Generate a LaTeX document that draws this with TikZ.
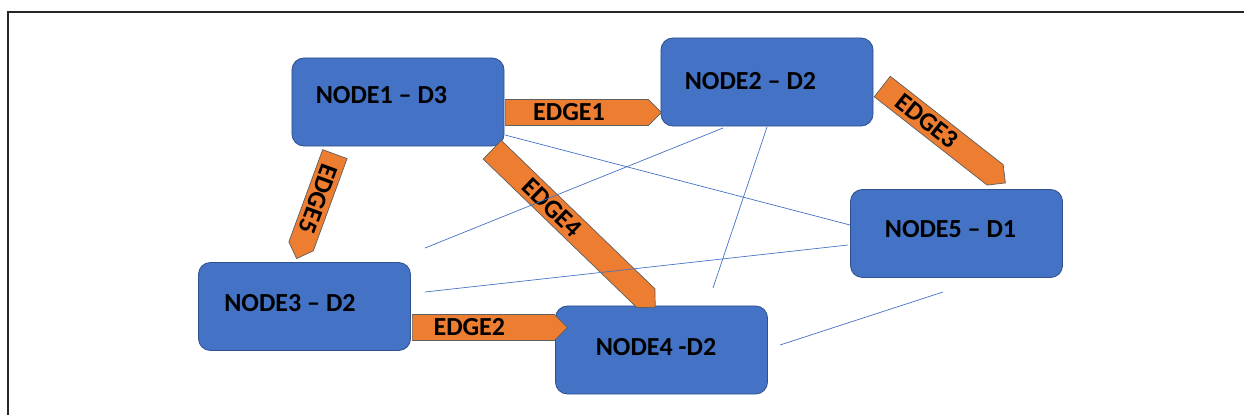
\documentclass[tikz,border=0pt]{standalone}
\usepackage{fontspec}
\setmainfont{Carlito}
\usetikzlibrary{shapes.arrows,calc}
\definecolor{nodeblue}{HTML}{4472C4}
\definecolor{nodeedge}{HTML}{2F528F}
\definecolor{edgeorange}{HTML}{ED7D31}
\definecolor{edgegray}{HTML}{5F5F5F}

\tikzset{
  graphnode/.style={rectangle, rounded corners=0.3cm, draw=nodeedge,
        line width=0.6pt, fill=nodeblue, minimum width=5.3cm,
        minimum height=2.2cm, inner sep=0pt},
  nodetext/.style={font=\bfseries\fontsize{18.5}{20}\selectfont, inner sep=0pt},
  edgearrow/.style={single arrow, single arrow head extend=0pt,
        single arrow tip angle=90, draw=edgegray, line width=0.5pt,
        fill=edgeorange, minimum width=0.65cm, inner sep=0pt},
  crossline/.style={draw=nodeblue, line width=0.5pt},
  framerule/.style={draw=black!85, line width=1.4pt},
}

% fat edge: name, tail, tip, label position, label
\newcommand\fatedge[5]{%
  \path let \p1=(#2), \p2=(#3), \n1={atan2(\y2-\y1,\x2-\x1)},
            \n2={veclen(\x2-\x1,\y2-\y1)} in
    node[edgearrow, anchor=tail, rotate=\n1, minimum height=\n2] (#1) at (\p1) {}
    node[nodetext, rotate=\n1] (#1t) at ($(#2)!#4!(#3)$) {#5};
}

\begin{document}
\begin{tikzpicture}[x=0.025cm, y=-0.025cm]
  \useasboundingbox (0,0) rectangle (1244,415);
  \draw[framerule] (8,415) -- (8,12) -- (1244,12);

  % the five boxes
  \node[graphnode] (n1) at (398,102) {};
  \node[graphnode] (n2) at (767,82) {};
  \node[graphnode] (n3) at (304.5,306.5) {};
  \node[graphnode] (n4) at (661.5,350) {};
  \node[graphnode] (n5) at (956.5,233.5) {};
  \node[nodetext] (n1t) at (381.5,95) {NODE1 – D3};
  \node[nodetext] (n2t) at (750.5,81) {NODE2 – D2};
  \node[nodetext] (n3t) at (290,303) {NODE3 – D2};
  \node[nodetext] (n4t) at (656,347) {NODE4 -D2};
  \node[nodetext] (n5t) at (950.5,229) {NODE5 – D1};

  % ends of the fat edges
  \coordinate (e1s) at (505,112.5);   \coordinate (e1e) at (661,112.5);
  \coordinate (e2s) at (412,327.5);   \coordinate (e2e) at (567,327.5);
  \coordinate (e3s) at (882,86.3);    \coordinate (e3e) at (1005.5,183);
  \coordinate (e4s) at (492,149.5);   \coordinate (e4e) at (655,307);
  \coordinate (e5s) at (335,153.8);   \coordinate (e5e) at (296.7,258.3);
  \fatedge{e1}{e1s}{e1e}{0.41}{EDGE1}
  \fatedge{e2}{e2s}{e2e}{0.37}{EDGE2}
  \fatedge{e3}{e3s}{e3e}{0.36}{EDGE3}
  \fatedge{e4}{e4s}{e4e}{0.37}{EDGE4}
  \fatedge{e5}{e5s}{e5e}{0.43}{EDGE5}

  % thin cross lines
  \coordinate (l1s) at (505,135);  \coordinate (l1e) at (850,225);
  \coordinate (l2s) at (723,128);  \coordinate (l2e) at (425,248);
  \coordinate (l3s) at (767,127);  \coordinate (l3e) at (713,288);
  \coordinate (l4s) at (848,245);  \coordinate (l4e) at (425,292);
  \coordinate (l5s) at (943,292);  \coordinate (l5e) at (780,345);
  \foreach \i in {1,...,5}
    \draw[crossline] (l\i s) -- (l\i e);
\end{tikzpicture}
\end{document}
